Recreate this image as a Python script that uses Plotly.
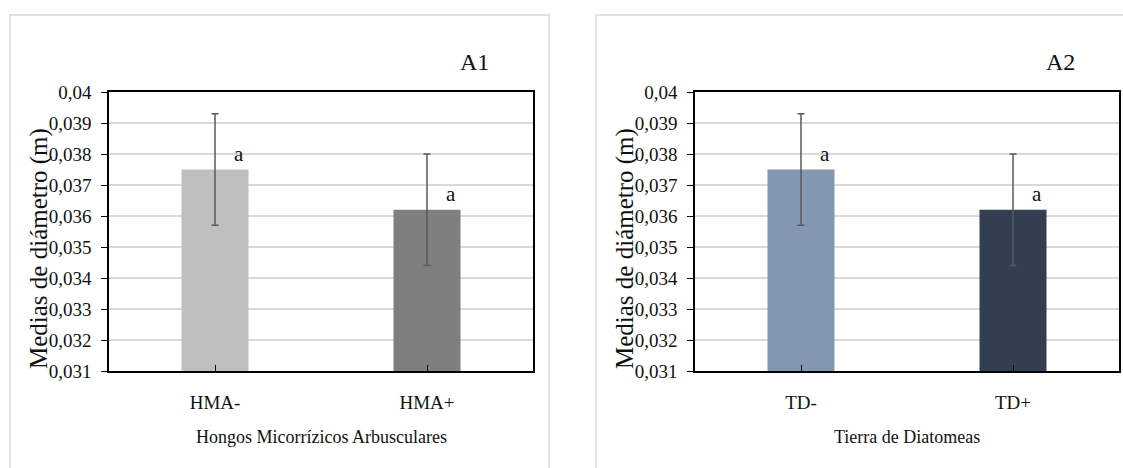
import plotly.graph_objects as go

# Mean stem diameter (m) per treatment, with error (±) and significance letters
HMA_CATS = ["HMA-", "HMA+"]
HMA_MEANS = [0.0375, 0.0362]
HMA_ERR = [0.0018, 0.0018]
HMA_LETTERS = ["a", "a"]
HMA_COLORS = ["#bfbfbf", "#7f7f7f"]

TD_CATS = ["TD-", "TD+"]
TD_MEANS = [0.0375, 0.0362]
TD_ERR = [0.0018, 0.0018]
TD_LETTERS = ["a", "a"]
TD_COLORS = ["#8497b0", "#333f50"]

Y_TICKS = [0.031, 0.032, 0.033, 0.034, 0.035, 0.036, 0.037, 0.038, 0.039, 0.04]
Y_TICK_TEXT = ["0,031", "0,032", "0,033", "0,034", "0,035", "0,036",
               "0,037", "0,038", "0,039", "0,04"]

PANEL_TAGS = ["A1", "A2"]
X_TITLES = ["Hongos Micorrízicos Arbusculares", "Tierra de Diatomeas"]
Y_TITLE = "Medias de diámetro (m)"

W, H = 1123, 468
FONT = "Liberation Serif"
TXT = "#111111"


def px(x):
    return x / W


def py(y):
    return 1 - y / H


fig = go.Figure()

panels = [
    dict(cats=HMA_CATS, means=HMA_MEANS, err=HMA_ERR, letters=HMA_LETTERS,
         colors=HMA_COLORS, x0=109, x1=533, box=(10, 549)),
    dict(cats=TD_CATS, means=TD_MEANS, err=TD_ERR, letters=TD_LETTERS,
         colors=TD_COLORS, x0=695, x1=1119, box=(596, 1140)),
]
Y_TOP, Y_BOT = 92, 371

layout = dict(
    width=W, height=H, margin=dict(l=0, r=0, t=0, b=0),
    paper_bgcolor="white", plot_bgcolor="white",
    showlegend=False, bargap=0.684, template="none",
    font=dict(family=FONT, color=TXT),
    shapes=[], annotations=[],
)

for i, p in enumerate(panels):
    n = i + 1
    xa, ya = ("x", "y") if n == 1 else (f"x{n}", f"y{n}")
    xk, yk = ("xaxis", "yaxis") if n == 1 else (f"xaxis{n}", f"yaxis{n}")

    fig.add_trace(go.Bar(
        x=p["cats"], y=p["means"], base=0,
        marker=dict(color=p["colors"], line=dict(width=0)),
        error_y=dict(type="data", array=p["err"], color="#595959",
                     thickness=1.5, width=3.5),
        xaxis=xa, yaxis=ya, hoverinfo="skip",
    ))

    dom_x = [px(p["x0"]), px(p["x1"])]
    dom_y = [py(Y_BOT), py(Y_TOP)]

    layout[xk] = dict(
        domain=dom_x, anchor=ya, type="category", range=[-0.5, 1.5],
        showline=True, linecolor="black", linewidth=1.5, mirror=True,
        ticks="inside", ticklen=6, tickcolor="black", tickwidth=1.2,
        tickfont=dict(size=19, family=FONT, color=TXT),
        ticklabelstandoff=13, showgrid=False, zeroline=False,
    )
    layout[yk] = dict(
        domain=dom_y, anchor=xa, range=[Y_TICKS[0], Y_TICKS[-1]],
        tickvals=Y_TICKS, ticktext=Y_TICK_TEXT,
        ticks="outside", ticklen=6, tickcolor="black", tickwidth=1.2,
        tickfont=dict(size=19, family=FONT, color=TXT),
        ticklabelstandoff=6,
        showgrid=True, gridcolor="#d9d9d9", gridwidth=1.8,
        showline=True, linecolor="black", linewidth=1.5, mirror=True,
        zeroline=False,
    )
    # companion axes giving the crossing tick marks
    layout[f"xaxis{n + 4}"] = dict(
        overlaying=xa, anchor=ya, domain=dom_x, range=[-0.5, 1.5],
        tickvals=[0, 1, 1.5], ticks="outside", ticklen=6, tickcolor="black",
        tickwidth=1.2, showticklabels=False, showline=False, showgrid=False,
        zeroline=False,
    )
    layout[f"yaxis{n + 4}"] = dict(
        overlaying=ya, anchor=xa, domain=dom_y,
        range=[Y_TICKS[0], Y_TICKS[-1]], tickvals=Y_TICKS,
        ticks="inside", ticklen=6, tickcolor="black", tickwidth=1.2,
        showticklabels=False, showline=False, showgrid=False, zeroline=False,
    )

    # significance letters beside each bar top
    for c, m, s in zip(p["cats"], p["means"], p["letters"]):
        layout["annotations"].append(dict(
            x=c, y=m, xref=xa, yref=ya, text=s, showarrow=False,
            xshift=24, yshift=16, font=dict(size=21, family=FONT, color=TXT),
        ))

    # panel frame
    bx0, bx1 = p["box"]
    layout["shapes"].append(dict(
        type="rect", xref="paper", yref="paper",
        x0=px(bx0), x1=px(bx1), y0=-0.05, y1=py(15),
        line=dict(color="#d9d9d9", width=1.5), fillcolor="rgba(0,0,0,0)",
        layer="below",
    ))

    cx = (p["x0"] + p["x1"]) / 2
    layout["annotations"].append(dict(
        x=px(cx), y=py(437), xref="paper", yref="paper", text=X_TITLES[i],
        showarrow=False, xanchor="center", yanchor="middle",
        font=dict(size=18, family=FONT, color=TXT),
    ))
    layout["annotations"].append(dict(
        x=px(p["x0"] - 70), y=py(249), xref="paper", yref="paper", text=Y_TITLE,
        showarrow=False, textangle=-90, xanchor="center", yanchor="middle",
        font=dict(size=25, family=FONT, color=TXT),
    ))
    layout["annotations"].append(dict(
        x=px(p["x1"] - 59), y=py(62), xref="paper", yref="paper",
        text=PANEL_TAGS[i], showarrow=False, xanchor="center", yanchor="middle",
        font=dict(size=24, family=FONT, color=TXT),
    ))

fig.update_layout(**layout)
fig.write_html("out.html")
